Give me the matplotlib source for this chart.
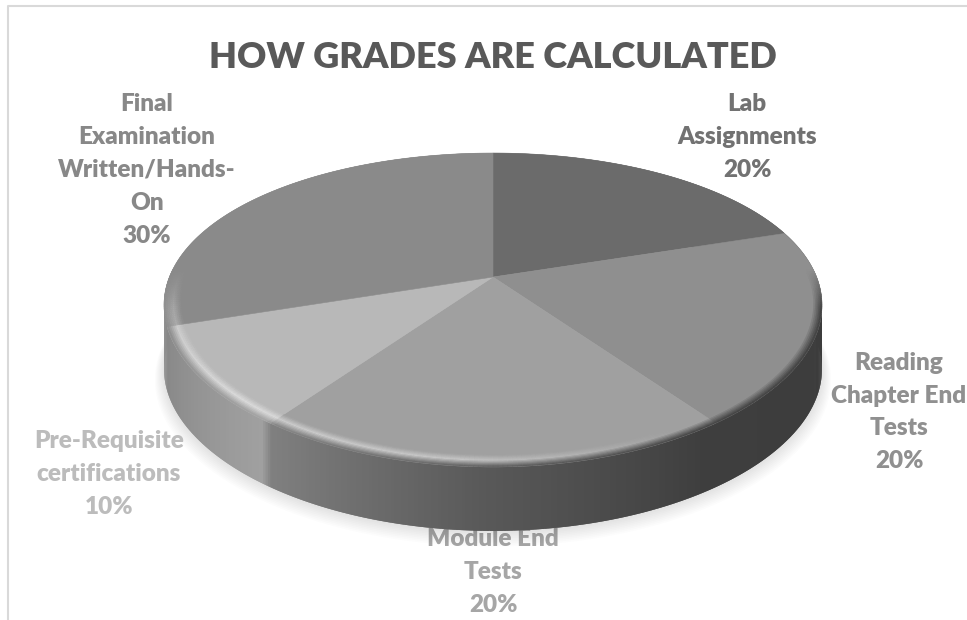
import numpy as np
import matplotlib
matplotlib.use('Agg')
import matplotlib.pyplot as plt
from matplotlib.collections import PolyCollection

# chart values
categories = ['Lab\nAssignments', 'Reading\nChapter End\nTests', 'Module End\nTests',
              'Pre-Requisite\ncertifications', 'Final\nExamination\nWritten/Hands-\nOn']
shares = [20, 20, 20, 10, 30]
title = 'HOW GRADES ARE CALCULATED'

# styling per slice
top_grey = [0x6b, 0x8f, 0xa0, 0xb8, 0x8a]
label_grey = [0x72, 0x90, 0xa6, 0xbc, 0x88]
label_pos = [(747, 137), (899, 412), (493, 572), (109, 474), (147, 170)]

# projection of the tilted disc, in pixels
cx, cy = 493, 277
sx, sy, persp_x, persp_y = 323.6, 150, 0.18, 0.21
depth = 64


def project(r, theta):
    # theta runs clockwise from 12 o'clock
    u = r * np.sin(theta)
    v = r * np.cos(theta)
    return cx + sx * u / (1 + persp_x * v), cy - sy * v / (1 + persp_y * v)


def wall_grey(theta):
    deg = np.degrees(theta) % 360
    return np.interp(deg, [0, 100, 146, 180, 215, 217, 250, 254, 360],
                     [0x90, 0x3c, 0x3e, 0x58, 0x80, 0xa0, 0x88, 0x90, 0x90])


def highlight(theta):
    deg = np.degrees(theta) % 360
    return np.interp(deg, [0, 150, 185, 225, 265, 360], [0, 0, 0.4, 0.5, 0.2, 0])


fig = plt.figure(figsize=(9.67, 6.2), dpi=100)
ax = fig.add_axes([0, 0, 1, 1])
ax.set_xlim(0, 967)
ax.set_ylim(620, 0)
ax.axis('off')

# frame of the chart area
ax.plot([8, 8, 967], [620, 6, 6], color='#d9d9d9', lw=1.5, zorder=0)

edges = np.radians(np.cumsum([0] + shares) / np.sum(shares) * 360)

# soft shadow under the disc
full = np.linspace(0, 2 * np.pi, 361)
for i in range(10):
    sxs, sys_ = project(1 + 0.003 * i, full)
    ax.fill(sxs, sys_ + depth + 1 + i * 0.9, color='black', alpha=0.012, lw=0, zorder=1)

# side wall, back quads first; each quad overlaps the next so no seams show
steps = np.linspace(0, 2 * np.pi, 721)
wall_polys, wall_cols = [], []
order = np.argsort(-np.cos(steps[:-2]))
for k in order:
    t0, t1 = steps[k], steps[k + 2]
    x0, y0 = project(1, t0)
    x1, y1 = project(1, t1)
    wall_polys.append([(x0, y0), (x1, y1), (x1, y1 + depth), (x0, y0 + depth)])
    g = wall_grey(steps[k]) / 255
    wall_cols.append((g, g, g))
ax.add_collection(PolyCollection(wall_polys, facecolors=wall_cols, linewidths=0, zorder=2))

# top face of each slice
for i in range(len(shares)):
    th = np.linspace(edges[i], edges[i + 1], 120)
    xs, ys = project(1, th)
    g = top_grey[i] / 255
    ax.fill(np.r_[cx, xs], np.r_[cy, ys], color=(g, g, g), lw=0.4, zorder=3)

# rounded rim: highlight then fall into the wall colour
bevel_polys, bevel_cols = [], []
layers = np.linspace(0, 1, 11)
for i in range(len(shares)):
    th = np.linspace(edges[i], edges[i + 1], int(shares[i] * 5) + 1)
    for a, b in zip(th[:-1], th[1:]):
        mid = (a + b) / 2
        v = np.cos(mid)
        weight = np.clip((0.05 - v) / 0.25, 0, 1)
        if weight == 0:
            continue
        face = top_grey[i]
        hi = face + highlight(mid) * (255 - face)
        wall = wall_grey(mid)
        for s0, s1 in zip(layers[:-1], layers[1:]):
            r0 = 0.95 + 0.05 * s0
            r1 = 0.95 + 0.05 * s1
            s = (s0 + s1) / 2
            if s < 0.45:
                g = face + (hi - face) * s / 0.45
            else:
                g = hi + (wall - hi) * (s - 0.45) / 0.55
            g = (face + (g - face) * weight) / 255
            xa, ya = project(r0, a)
            xb, yb = project(r0, b)
            xc, yc = project(r1, b)
            xd, yd = project(r1, a)
            bevel_polys.append([(xa, ya), (xb, yb), (xc, yc), (xd, yd)])
            bevel_cols.append((g, g, g))
ax.add_collection(PolyCollection(bevel_polys, facecolors=bevel_cols, edgecolors=bevel_cols,
                                 linewidths=0.3, zorder=4))

# texts
ax.text(493, 57, title, ha='center', va='center', family='Lato', weight='heavy',
        fontsize=26, color='#595959', zorder=6)
total = sum(shares)
for name, val, g, (lx, ly) in zip(categories, shares, label_grey, label_pos):
    col = (g / 255, g / 255, g / 255)
    # module label sits behind the disc
    z = 0.5 if name.startswith('Module') else 6
    ax.text(lx, ly, f'{name}\n{val / total:.0%}', ha='center', va='center', family='Lato',
            weight='heavy', fontsize=17.5, color=col, linespacing=1.6, zorder=z)

fig.savefig('out.png', dpi=100)
